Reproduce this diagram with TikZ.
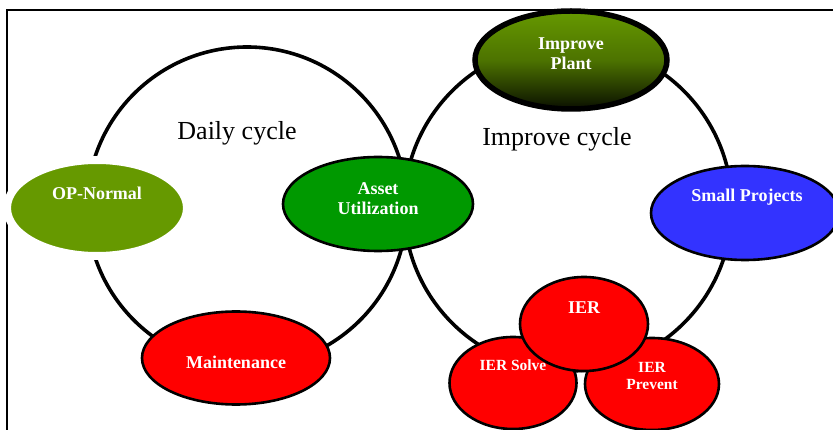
\documentclass[tikz,border=0pt]{standalone}
\usepackage{fontspec}
\setmainfont{Liberation Serif}
\usetikzlibrary{shapes.geometric}
\definecolor{olivegr}{RGB}{102,153,0}
\definecolor{assetgr}{RGB}{0,153,0}
\definecolor{projblue}{RGB}{51,51,255}
\definecolor{iered}{RGB}{255,0,0}
\tikzset{
  cyc/.style={line width=3.6pt},
  ell/.style={ellipse, inner sep=0pt, line width=2.6pt, draw=black},
  lbl/.style={text=white, font=\bfseries\fontsize{18}{20}\selectfont, align=center, inner sep=0pt},
  slbl/.style={text=white, font=\bfseries\fontsize{15.5}{17.5}\selectfont, align=center, inner sep=0pt},
  ttl/.style={font=\fontsize{26}{30}\selectfont, inner sep=0pt},
}
\begin{document}
\begin{tikzpicture}[x=1pt,y=-1pt]
\useasboundingbox (0,0) rectangle (833,430);
% frame
\coordinate (fbl) at (7,431);
\coordinate (ftl) at (7,10);
\coordinate (ftr) at (834,10);
\draw[line width=2.4pt] (fbl) -- (ftl) -- (ftr);
% cycles
\coordinate (dc) at (247,207);
\coordinate (ic) at (568,207);
\draw[cyc] (dc) circle[radius=160pt];
\draw[cyc] (ic) circle[radius=164pt];
% titles
\node[ttl] (dtitle) at (237,133) {Daily cycle};
\node[ttl] (ititle) at (557,139) {Improve cycle};
% nodes
\node[ell, draw=white, line width=8pt, fill=olivegr, minimum width=180pt, minimum height=96pt] (opn) at (97,208) {};
\node[lbl] at (97,193) {OP-Normal};
\node[ell, fill=assetgr, minimum width=190pt, minimum height=94pt] (asset) at (378,204) {};
\node[lbl] at (378,199) {Asset\\Utilization};
\node[ell, line width=5.5pt, top color=olivegr, bottom color=black!90!olivegr, middle color=olivegr!75!black, minimum width=192pt, minimum height=98pt] (plant) at (571,60) {};
\node[lbl] at (571,54) {Improve\\Plant};
\node[ell, fill=projblue, minimum width=188pt, minimum height=94pt] (proj) at (745,213) {};
\node[lbl] at (747,197) {Small Projects};
\node[ell, fill=iered, minimum width=188pt, minimum height=93pt] (maint) at (236,358) {};
\node[lbl] at (236,362) {Maintenance};
\node[ell, fill=iered, minimum width=127pt, minimum height=92pt] (solve) at (513,383) {};
\node[slbl] at (513,365) {IER Solve};
\node[ell, fill=iered, minimum width=134pt, minimum height=92pt] (prevent) at (652,384) {};
\node[slbl] at (652,376) {IER\\Prevent};
\node[ell, fill=iered, minimum width=128pt, minimum height=94pt] (ier) at (584,324) {};
\node[lbl] at (584,308) {IER};
\end{tikzpicture}
\end{document}
